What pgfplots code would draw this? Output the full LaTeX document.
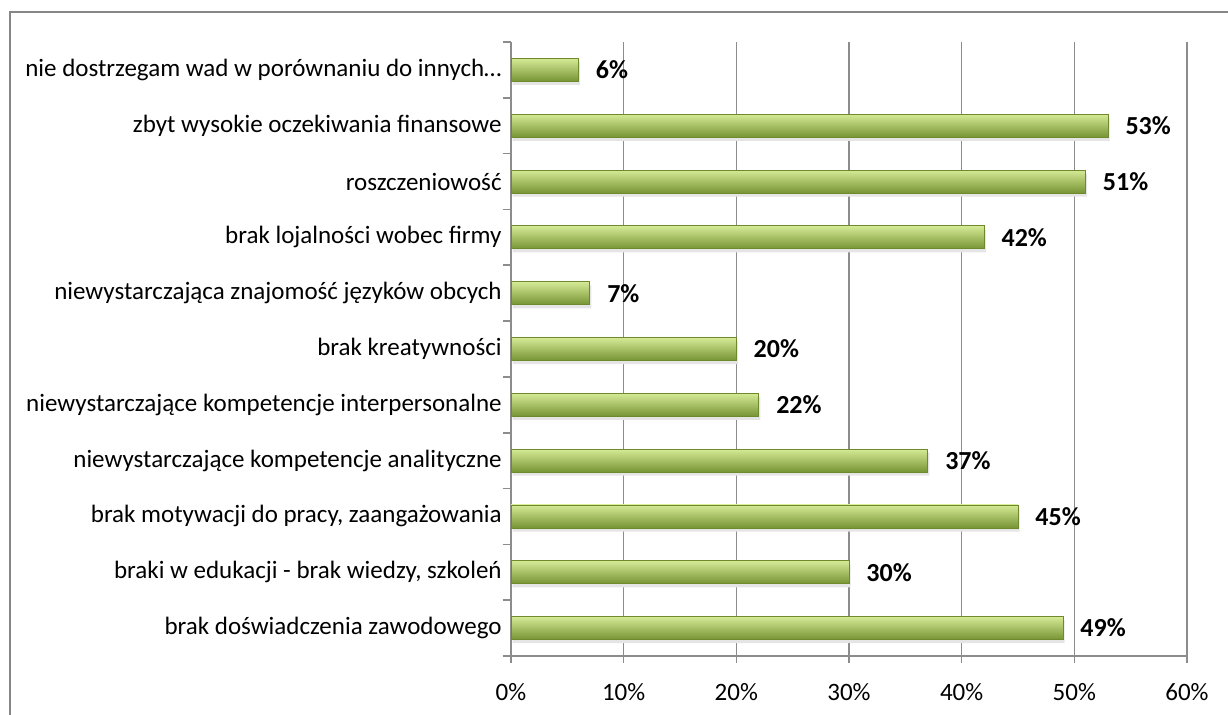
\documentclass[border=0pt]{standalone}
\usepackage{pgfplots}
\pgfplotsset{compat=1.18}
\usepackage{fontspec}
\setmainfont{Carlito}
\definecolor{gridgray}{RGB}{140,140,140}
\definecolor{framegray}{RGB}{134,134,134}
\definecolor{bartop}{RGB}{214,234,150}
\definecolor{barmid}{RGB}{163,197,84}
\definecolor{barbot}{RGB}{118,148,52}
\definecolor{barline}{RGB}{110,138,45}
\pgfplotsset{
  shadowbar/.style={xbar, bar width=11.5pt, bar shift=-1.8pt, fill=black!10, draw=none, xshift=0.8pt, forget plot},
  greenbar/.style={xbar, bar width=11.5pt, bar shift=0pt, draw=barline, line width=0.4pt,
    top color=bartop, middle color=barmid, bottom color=barbot,
    nodes near coords={\pgfmathprintnumber[assume math mode=true]{\pgfplotspointmeta}\%},
    point meta=x,
    nodes near coords style={anchor=west, inner sep=0pt, xshift=8.5pt, text=black,
      font=\bfseries\fontsize{13}{15}\selectfont}},
}
\begin{document}
\begin{tikzpicture}[x=1pt,y=1pt]
\useasboundingbox (0,0) rectangle (614,357.5);
\draw[framegray, line width=1pt] (5,-20) -- (5,351.5) -- (640,351.5);
\begin{axis}[
  at={(255.5pt,29.5pt)}, anchor=south west,
  scale only axis, width=338pt, height=307pt,
  xmin=0, xmax=60, ymin=-0.5, ymax=10.5,
  axis x line*=bottom, axis y line*=left,
  axis line style={draw=gridgray, line width=0.8pt},
  xmajorgrids, grid style={draw=gridgray, line width=0.8pt},
  xtick={0,10,...,60},
  xticklabels={0\%,10\%,20\%,30\%,40\%,50\%,60\%},
  xtick style={draw=gridgray, line width=0.8pt},
  tick align=outside, major tick length=3.5pt,
  ytick={0,...,10},
  yticklabels={brak doświadczenia zawodowego,
    {braki w edukacji - brak wiedzy, szkoleń},
    {brak motywacji do pracy, zaangażowania},
    niewystarczające kompetencje analityczne,
    niewystarczające kompetencje interpersonalne,
    brak kreatywności,
    niewystarczająca znajomość języków obcych,
    brak lojalności wobec firmy,
    roszczeniowość,
    zbyt wysokie oczekiwania finansowe,
    nie dostrzegam wad w porównaniu do innych…},
  ytick style={draw=none},
  extra y ticks={-0.5,0.5,...,10.5},
  extra y tick labels={},
  extra y tick style={ytick style={draw=gridgray, line width=0.8pt}, major tick length=4pt, tick align=outside, grid=none},
  ticklabel style={font=\fontsize{12.5}{14}\selectfont, text=black},
  yticklabel style={inner sep=0pt, xshift=-1pt},
  xticklabel style={inner sep=0pt, yshift=-10pt},
  clip=false,
]
\addplot[shadowbar] coordinates {(49,0) (30,1) (45,2) (37,3) (22,4) (20,5) (7,6) (42,7) (51,8) (53,9) (6,10)};
\addplot[greenbar] coordinates {(49,0)};
\addplot[greenbar] coordinates {(30,1)};
\addplot[greenbar] coordinates {(45,2)};
\addplot[greenbar] coordinates {(37,3)};
\addplot[greenbar] coordinates {(22,4)};
\addplot[greenbar] coordinates {(20,5)};
\addplot[greenbar] coordinates {(7,6)};
\addplot[greenbar] coordinates {(42,7)};
\addplot[greenbar] coordinates {(51,8)};
\addplot[greenbar] coordinates {(53,9)};
\addplot[greenbar] coordinates {(6,10)};
\end{axis}
\end{tikzpicture}
\end{document}
